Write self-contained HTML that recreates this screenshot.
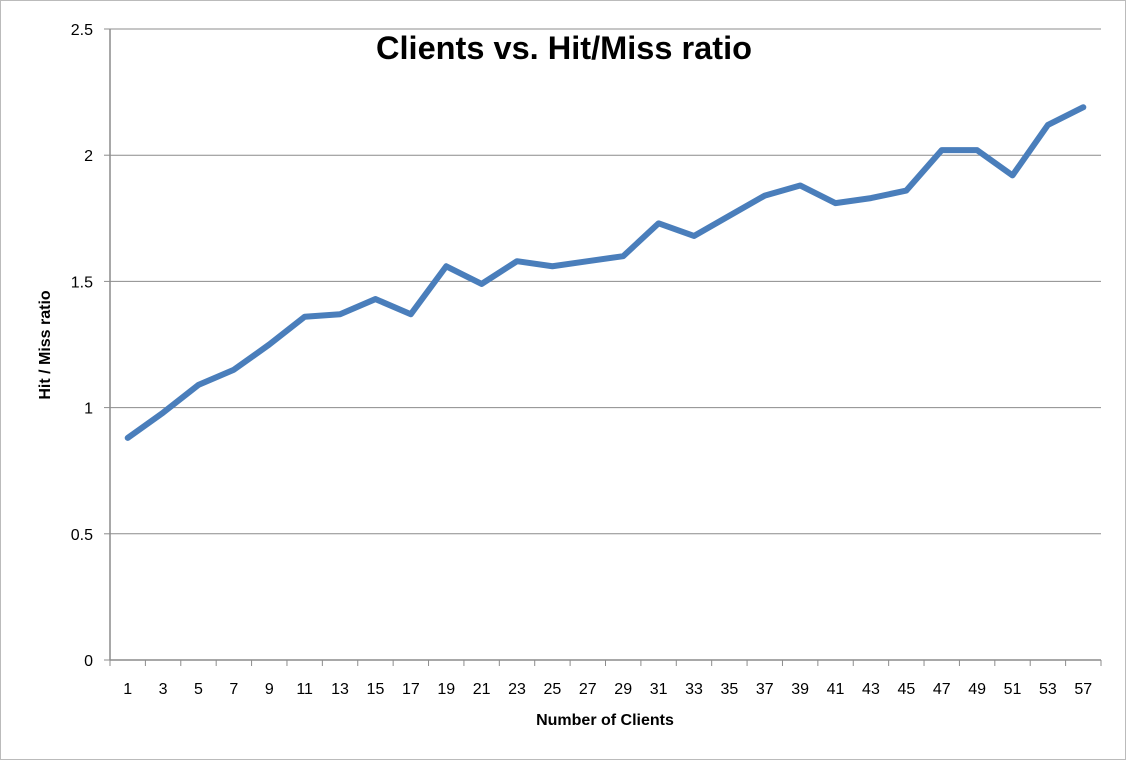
<!DOCTYPE html>
<html><head><meta charset="utf-8"><style>
body{margin:0;background:#fff}
svg{display:block;font-family:"Liberation Sans",sans-serif}
</style></head><body>
<svg id="chart" width="1130" height="761">
<rect x="0.5" y="0.5" width="1125" height="759" fill="#fff" stroke="#bbb"/>
<g id="grid"></g><g id="axes"></g><g id="series"></g>
<text x="564" y="59" text-anchor="middle" font-size="32" font-weight="bold" textLength="376" lengthAdjust="spacingAndGlyphs">Clients vs. Hit/Miss ratio</text>
<text x="605" y="725" text-anchor="middle" font-size="16" font-weight="bold">Number of Clients</text>
<text transform="translate(50,345) rotate(-90)" text-anchor="middle" font-size="16" font-weight="bold">Hit / Miss ratio</text>
</svg>
<script>
const categories=["1","3","5","7","9","11","13","15","17","19","21","23","25","27","29","31","33","35","37","39","41","43","45","47","49","51","53","57"];
const ratios=[0.88,0.98,1.09,1.15,1.25,1.36,1.37,1.43,1.37,1.56,1.49,1.58,1.56,1.58,1.60,1.73,1.68,1.76,1.84,1.88,1.81,1.83,1.86,2.02,2.02,1.92,2.12,2.19];
const yTicks=[0,0.5,1,1.5,2,2.5];
const L=110,R=1101,T=29,B=660,yMax=2.5;
const NS="http://www.w3.org/2000/svg";
const step=(R-L)/categories.length;
function xS(i){return L+step*(i+0.5);}
function yS(v){return B-(v/yMax)*(B-T);}
function mk(tag,attrs,parent){const e=document.createElementNS(NS,tag);for(const k in attrs)e.setAttribute(k,attrs[k]);document.getElementById(parent).appendChild(e);return e;}
yTicks.forEach(v=>{
  const y=yS(v);
  if(v>0){const g=mk('line',{x1:L,x2:R,y1:y,y2:y,stroke:'#8c8c8c','stroke-width':1},'grid');
  
  }
  const t=mk('line',{x1:L-6,x2:L,y1:y,y2:y,stroke:'#8c8c8c'},'axes');
  
  
  const tx=mk('text',{x:L-17,y:y+6,'text-anchor':'end','font-size':16},'axes');
  tx.textContent=String(v);
  
  
});
const ya=mk('line',{x1:L,x2:L,y1:T,y2:B,stroke:'#8c8c8c','stroke-width':1.5},'axes');


const xa=mk('line',{x1:L,x2:R,y1:B,y2:B,stroke:'#8c8c8c','stroke-width':1.5},'axes');


for(let i=0;i<=categories.length;i++){
  const x=L+step*i;
  const t=mk('line',{x1:x,x2:x,y1:B,y2:B+6,stroke:'#8c8c8c'},'axes');
  
  
}
categories.forEach((c,i)=>{
  const t=mk('text',{x:xS(i),y:B+34,'text-anchor':'middle','font-size':16},'axes');
  t.textContent=c;
  
  
});
const p=mk('polyline',{points:ratios.map((v,i)=>xS(i)+','+yS(v)).join(' '),fill:'none',stroke:'#4a7ebb','stroke-width':6,'stroke-linejoin':'round','stroke-linecap':'round'},'series');


</script>
</body></html>
